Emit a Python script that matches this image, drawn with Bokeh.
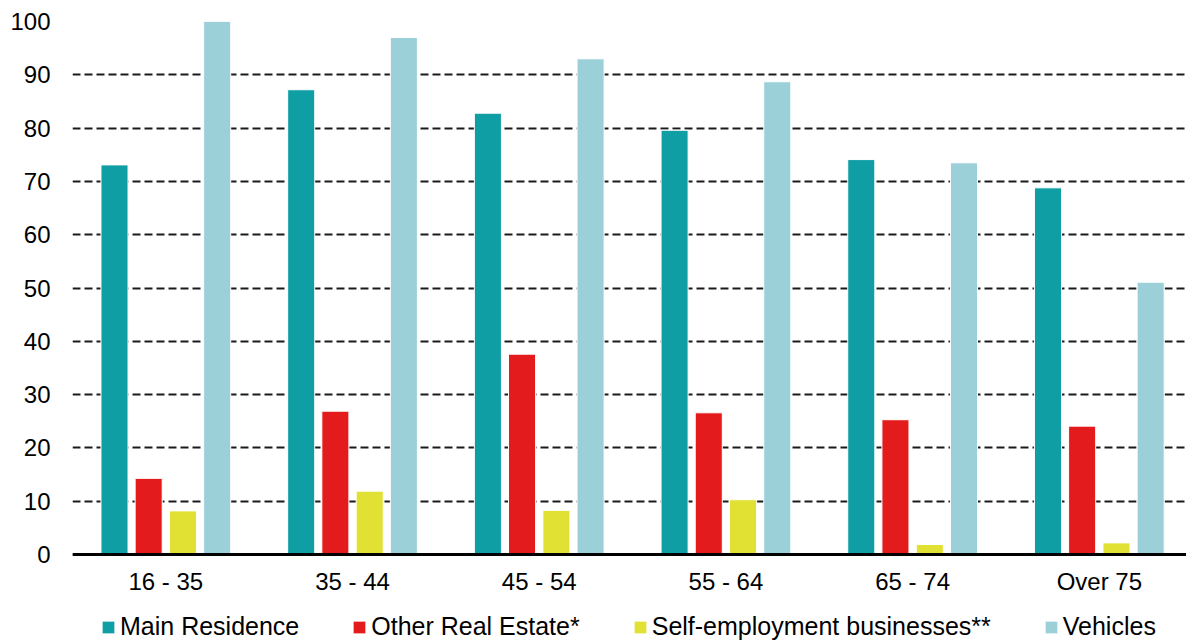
from bokeh.plotting import figure
from bokeh.models import Range1d, FixedTicker, Legend, LegendItem, ColumnDataSource, Span
from bokeh.transform import dodge
from bokeh.core.properties import value
from bokeh.embed import file_html
from bokeh.resources import INLINE

categories = ["16 - 35", "35 - 44", "45 - 54", "55 - 64", "65 - 74", "Over 75"]
main_residence = [73.1, 87.2, 82.8, 79.6, 74.1, 68.8]
other_real_estate = [14.3, 26.9, 37.6, 26.6, 25.3, 24.1]
self_employment = [8.2, 11.9, 8.3, 10.3, 1.9, 2.2]
vehicles = [100.0, 97.0, 93.0, 88.7, 73.5, 51.1]
y_ticks = [0, 10, 20, 30, 40, 50, 60, 70, 80, 90, 100]

series_names = ["Main Residence", "Other Real Estate*", "Self-employment businesses**", "Vehicles"]
series_keys = ["main", "other", "self", "veh"]
colors = ["#109ea5", "#e31b1c", "#e1e133", "#9bd0d9"]

src = ColumnDataSource(dict(
    x=list(range(len(categories))),
    cat=categories,
    zero=[0] * len(categories),
    main=main_residence,
    other=other_real_estate,
    self=self_employment,
    veh=vehicles,
))

FONT = "Liberation Sans"

# frame spans down to the page bottom so the legend can sit inside it
p = figure(
    frame_width=1114, frame_height=620,
    x_range=Range1d(-0.5, 5.467), y_range=Range1d(-16.3, 100),
    output_backend="svg", toolbar_location=None, x_axis_location=None,
    min_border_left=72, min_border_right=0, min_border_top=21, min_border_bottom=0,
)
p.outline_line_color = None
p.background_fill_color = "white"
p.border_fill_color = "white"

offsets = [-0.275, -0.092, 0.092, 0.275]
bar_w = 0.145
renderers = []
for key, off, col in zip(series_keys, offsets, colors):
    r = p.vbar(x=dodge("x", off), top=key, bottom=0, width=bar_w, source=src,
               fill_color=col, line_color="white", line_width=1)
    renderers.append(r)

# grid
p.xgrid.grid_line_color = None
p.ygrid.grid_line_color = "#1a1a1a"
p.ygrid.grid_line_dash = "8 4"
p.ygrid.grid_line_width = 2
p.ygrid.ticker = FixedTicker(ticks=y_ticks)

# baseline (category axis line)
p.add_layout(Span(location=0, dimension="width", line_color="black", line_width=3, level="overlay"))

# category labels under the baseline
p.text(x="x", y="zero", text="cat", source=src, y_offset=27,
       text_align="center", text_baseline="middle",
       text_font=value(FONT), text_font_size="24px", text_color="black")

# y axis
p.yaxis.ticker = FixedTicker(ticks=y_ticks)
p.yaxis.axis_line_color = None
p.yaxis.major_tick_line_color = None
p.yaxis.minor_tick_line_color = None
p.yaxis.major_tick_out = 0
p.yaxis.major_label_standoff = 22
p.yaxis.major_label_text_font = FONT
p.yaxis.major_label_text_font_size = "24px"
p.yaxis.major_label_text_color = "black"

legend = Legend(
    items=[LegendItem(label=n, renderers=[r]) for n, r in zip(series_names, renderers)],
    orientation="horizontal", location=(28, 0),
    glyph_width=16, glyph_height=16, label_standoff=4, spacing=52,
    label_text_font=FONT, label_text_font_size="25px", label_text_color="black",
    border_line_color=None, background_fill_alpha=0,
    margin=0, padding=0,
)
p.add_layout(legend, "center")

open("out.html", "w").write(file_html(p, INLINE))
